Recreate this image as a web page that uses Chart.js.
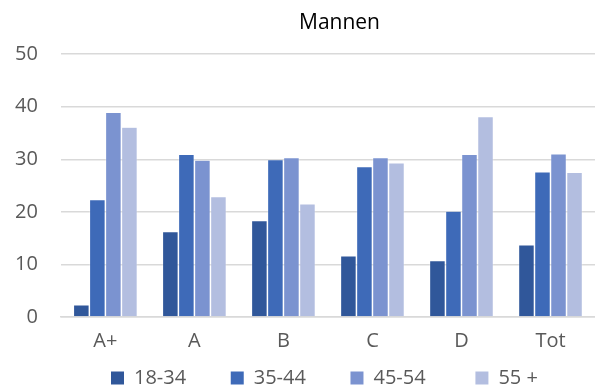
<!DOCTYPE html>
<html>
<head>
<meta charset="utf-8">
<script src="https://cdn.jsdelivr.net/npm/chart.js@4.4.0/dist/chart.umd.min.js"></script>
<style>
    html, body { margin: 0; padding: 0; background: #fff; }
    #wrap { width: 595px; height: 387px; }
</style>
</head>
<body>
<div id="wrap"><canvas id="chart"></canvas></div>
<script>
// Chart data
const categories = ['A+', 'A', 'B', 'C', 'D', 'Tot'];
const seriesNames = ['18-34', '35-44', '45-54', '55 +'];
const age18to34 = [2.3, 16.2, 18.3, 11.6, 10.7, 13.7];
const age35to44 = [22.3, 30.9, 29.9, 28.6, 20.1, 27.6];
const age45to54 = [38.9, 29.8, 30.3, 30.3, 30.9, 31.0];
const age55plus = [36.1, 22.9, 21.5, 29.3, 38.1, 27.5];
const yTicks = [0, 10, 20, 30, 40, 50];

const colors = ['#30579a', '#3e6ab8', '#7b93d0', '#b3bee0'];
const seriesValues = [age18to34, age35to44, age45to54, age55plus];
// trailing gap after each legend entry
const legendGaps = ['        ', '        ', '         ', ''];

// Move title and legend to where the reference has them
const placeBoxes = {
    id: 'placeBoxes',
    afterLayout(chart) {
        const t = chart.titleBlock;
        t.left += 46; t.right += 46;
        const l = chart.legend;
        const dx = 108 - l.left;
        const dy = 378 - (l.top + 3 + 10);
        l.left += dx; l.right += dx;
        l.top += dy; l.bottom += dy;
    }
};

const ctx = document.getElementById('chart').getContext('2d');
new Chart(ctx, {
    type: 'bar',
    data: {
        labels: categories,
        datasets: seriesNames.map((name, i) => ({
            label: name,
            data: seriesValues[i],
            backgroundColor: colors[i],
            borderColor: 'rgba(255,255,255,0.55)',
            borderWidth: { top: 0.5, left: 0.75, right: 0.75, bottom: 0 },
            borderSkipped: 'bottom',
            categoryPercentage: 0.72,
            barPercentage: 1
        }))
    },
    options: {
        responsive: true,
        maintainAspectRatio: false,
        animation: false,
        layout: { padding: { left: -8, right: 0, top: 0, bottom: -3 } },
        plugins: {
            title: {
                display: true,
                text: 'Mannen',
                color: '#000',
                font: { family: 'Open Sans', size: 21, weight: 'normal' },
                padding: { top: 10, bottom: 19 }
            },
            legend: {
                position: 'bottom',
                align: 'start',
                labels: {
                    boxWidth: 13,
                    boxHeight: 13,
                    padding: 3,
                    color: '#595959',
                    font: { family: 'Open Sans', size: 20 },
                    generateLabels(chart) {
                        return chart.data.datasets.map((ds, i) => ({
                            text: ds.label + legendGaps[i],
                            fillStyle: ds.backgroundColor,
                            strokeStyle: ds.backgroundColor,
                            lineWidth: 0,
                            fontColor: '#595959',
                            datasetIndex: i
                        }));
                    }
                }
            },
            tooltip: { enabled: false }
        },
        scales: {
            x: {
                grid: { display: false },
                border: { color: '#d9d9d9', width: 1.5 },
                ticks: {
                    color: '#595959',
                    padding: 4,
                    font: { family: 'Open Sans', size: 20 }
                }
            },
            y: {
                min: yTicks[0],
                max: yTicks[yTicks.length - 1],
                afterBuildTicks(axis) {
                    axis.ticks = yTicks.map(v => ({ value: v }));
                },
                grid: { color: '#d9d9d9', lineWidth: 1.5, drawTicks: false },
                border: { display: false },
                ticks: {
                    color: '#595959',
                    padding: 23,
                    font: { family: 'Open Sans', size: 20 }
                }
            }
        }
    },
    plugins: [placeBoxes]
});
</script>
</body>
</html>
